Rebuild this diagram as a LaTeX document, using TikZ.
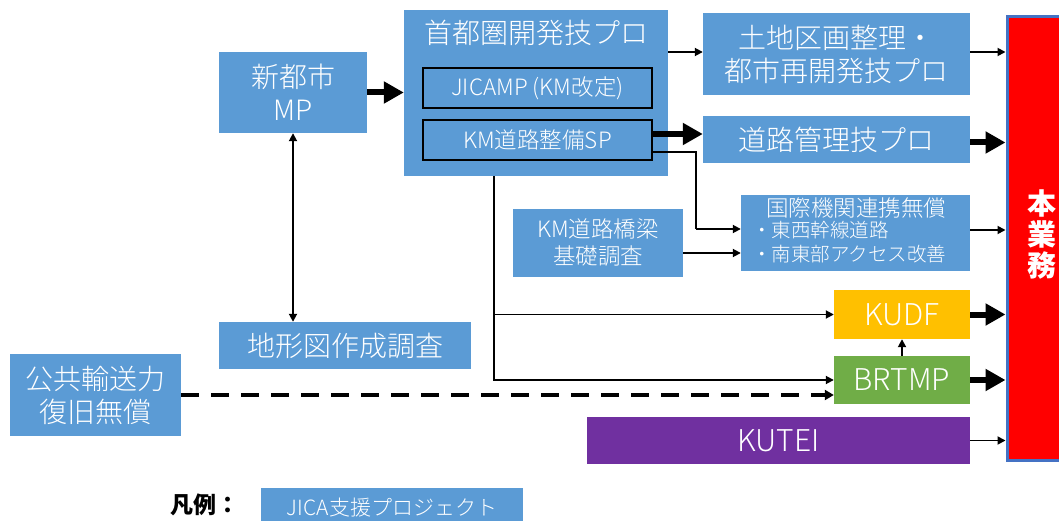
\documentclass[tikz,border=0pt]{standalone}
\usepackage{fontspec}
\setmainfont{Noto Sans CJK JP}
\IfFontExistsTF{Noto Sans CJK JP Light}{\newfontfamily\lightf{Noto Sans CJK JP Light}}{\newfontfamily\lightf{Noto Sans CJK JP}}
\usetikzlibrary{arrows.meta,calc}
\definecolor{pblue}{HTML}{5B9BD5}
\definecolor{porange}{HTML}{FFC000}
\definecolor{pgreen}{HTML}{70AD47}
\definecolor{ppurple}{HTML}{7030A0}
\definecolor{pborder}{HTML}{4472C4}
\begin{document}
\begin{tikzpicture}[x=1pt,y=-1pt,
  bx/.style={fill=pblue,text=white,inner sep=0pt,align=center,font=\lightf\fontsize{28}{33}\selectfont},
  inbx/.style={bx,draw=black,line width=1.2pt,font=\lightf\fontsize{22.5}{26}\selectfont},
  txt/.style={text=white,inner sep=0pt,align=center},
  thin/.style={line width=1.8pt,-{Triangle[length=8pt,width=8pt]}},
  fat/.style={line width=6pt,-{Triangle[length=20pt,width=21pt]}},
  dbl/.style={line width=1.8pt,{Triangle[length=8pt,width=8pt]}-{Triangle[length=8pt,width=8pt]}},
  dsh/.style={line width=3.5pt,dash pattern=on 18pt off 12pt,-{Triangle[length=9pt,width=10pt]}}]
\useasboundingbox (0,0) rectangle (1059,521);

% boxes
\node[bx,minimum width=264pt,minimum height=166pt] (tokyo) at (536,93) {};
\node[txt,font=\lightf\fontsize{28}{33}\selectfont] (tokyoT) at (536,33) {首都圏開発技プロ};
\node[inbx,minimum width=229pt,minimum height=40pt] (jicamp) at (537.5,88) {JICAMP (KM改定)};
\node[inbx,minimum width=229pt,minimum height=40pt] (kmsp) at (537.5,140) {KM道路整備SP};
\node[bx,minimum width=148pt,minimum height=81pt] (shin) at (293,92.5) {新都市\\MP};
\node[bx,minimum width=267pt,minimum height=82pt] (tochi) at (836.5,54) {土地区画整理・\\都市再開発技プロ};
\node[bx,minimum width=267pt,minimum height=47pt] (doro) at (836.5,139.5) {道路管理技プロ};
\node[bx,minimum width=229pt,minimum height=76pt] (kokusai) at (855.5,233) {};
\node[txt,font=\lightf\fontsize{22.5}{26}\selectfont] (kokT) at (856,208) {国際機関連携無償};
\node[txt,align=left,anchor=west,font=\lightf\fontsize{19.5}{24}\selectfont] (kokB) at (752,242) {・東西幹線道路\\・南東部アクセス改善};
\node[bx,minimum width=170pt,minimum height=68pt,font=\lightf\fontsize{22.5}{27}\selectfont] (kyo) at (598,243) {KM道路橋梁\\基礎調査};
\node[bx,fill=porange,minimum width=136pt,minimum height=49pt,font=\lightf\fontsize{30}{33}\selectfont] (kudf) at (902,314.5) {KUDF};
\node[bx,fill=pgreen,minimum width=136pt,minimum height=48pt,font=\lightf\fontsize{30}{33}\selectfont] (brtmp) at (902,380) {BRTMP};
\node[bx,fill=ppurple,minimum width=383pt,minimum height=47pt,font=\lightf\fontsize{30}{33}\selectfont] (kutei) at (778.5,440.5) {KUTEI};
\node[bx,minimum width=252pt,minimum height=47pt] (chikei) at (345,345.5) {地形図作成調査};
\node[bx,minimum width=171pt,minimum height=82pt] (kokyo) at (95.5,395) {公共輸送力\\復旧無償};
\node[fill=red,draw=pborder,line width=3pt,inner sep=0pt,minimum width=80pt,minimum height=443pt] (hon) at (1047,238.5) {};
\node[txt,font=\fontsize{29}{31}\bfseries\selectfont] (honT) at (1042,234) {本\\業\\務};

% legend
\node[inner sep=0pt,font=\fontsize{23}{26}\bfseries\selectfont] (legL) at (205,505) {凡例：};
\node[bx,minimum width=262pt,minimum height=40pt,font=\lightf\fontsize{21}{24}\selectfont] (legB) at (392,508) {JICA支援プロジェクト};

% connectors
\draw[fat] (shin.east) -- (shin.east -| tokyo.west);
\draw[dbl] (shin.south) -- (shin.south |- chikei.north);
\draw[thin] (tochi.west -| tokyo.east) ++(0,-2) -- ($(tochi.west)+(0,-2)$);
\draw[fat] ($(kmsp.east)+(0,-6)$) -- ($(kmsp.east -| doro.west)+(0,-6)$);
\coordinate (kturn) at ($(kokusai.west)+(-45,-4)$);
\draw[line width=1.8pt] ($(kmsp.east)+(0,12)$) -| (kturn);
\draw[thin] (kturn) -- ($(kokusai.west)+(0,-4)$);
\draw[thin] ($(kyo.east)+(0,10)$) -- ($(kyo.east -| kokusai.west)+(0,10)$);
\draw[thin] ($(tochi.east)+(0,-2)$) -- ($(tochi.east -| hon.west)+(0,-2)$);
\draw[fat] ($(doro.east)+(0,3)$) -- ($(doro.east -| hon.west)+(0,3)$);
\draw[thin] ($(kokusai.east)+(0,-3)$) -- ($(kokusai.east -| hon.west)+(0,-3)$);
\draw[fat] (kudf.east) -- (kudf.east -| hon.west);
\draw[fat] (brtmp.east) -- (brtmp.east -| hon.west);
\draw[thin] (kutei.east) -- (kutei.east -| hon.west);
\coordinate (tb) at ($(tokyo.south west)+(90,0)$);
\draw[thin] (tb) |- (brtmp.west);
\draw[thin] (tb |- kudf.west) -- (kudf.west);
\draw[thin] (brtmp.north) -- (kudf.south);
\draw[dsh] (kokyo.east) -- ($(brtmp.west)+(0,15)$);
\end{tikzpicture}
\end{document}
